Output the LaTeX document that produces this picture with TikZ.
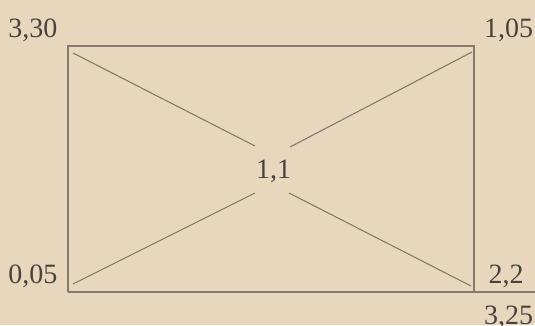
\documentclass[tikz,border=0pt]{standalone}
\usepackage{fontspec}
\setmainfont{Liberation Serif}
\definecolor{paper}{HTML}{E8D7BD}
\definecolor{ink}{HTML}{4A433D}
\definecolor{rule}{HTML}{857A6E}
\begin{document}
\begin{tikzpicture}[x=1pt,y=-1pt,
  lbl/.style={anchor=base,inner sep=0pt,text=ink,font=\fontsize{28}{30}\selectfont},
  edge/.style={draw=rule,line width=1.1pt}]
\useasboundingbox[fill=paper] (0,0) rectangle (535,325);
% rectangle corners
\coordinate (tl) at (68,46);
\coordinate (tr) at (474,46);
\coordinate (br) at (474,292);
\coordinate (bl) at (68,292);
\coordinate (re) at (535,292);
\draw[edge] (bl) -- (tl) -- (tr) -- (br);
\draw[edge] (bl) -- (re);
% diagonal segments
\coordinate (d1a) at (73,53);  \coordinate (d1b) at (255,146);
\coordinate (d2a) at (472,52); \coordinate (d2b) at (290,147);
\coordinate (d3a) at (73,284); \coordinate (d3b) at (255,193);
\coordinate (d4a) at (471,286);\coordinate (d4b) at (289,193);
\draw[edge] (d1a) -- (d1b);
\draw[edge] (d2a) -- (d2b);
\draw[edge] (d3a) -- (d3b);
\draw[edge] (d4a) -- (d4b);
% labels
\node[lbl] (c) at (273.5,178) {1,1};
\node[lbl] (ltl) at (33,37) {3,30};
\node[lbl] (ltr) at (508.5,37) {1,05};
\node[lbl] (lbl) at (33,283) {0,05};
\node[lbl] (lbr) at (506,283) {2,2};
\node[lbl] (lbb) at (508.5,324) {3,25};
\end{tikzpicture}
\end{document}
